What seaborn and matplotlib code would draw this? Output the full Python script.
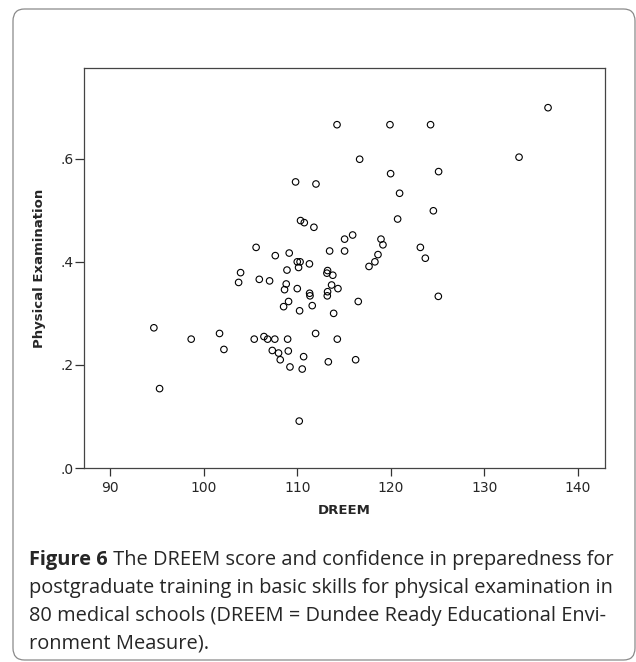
import numpy as np
import pandas as pd
import matplotlib
matplotlib.use('Agg')
import matplotlib.pyplot as plt
from matplotlib.patches import FancyBboxPatch
import seaborn as sns

# DREEM score vs confidence (physical examination), 80 schools
dreem = [114.25, 109.82, 112.0, 110.35, 110.75, 111.78, 105.6, 115.06, 107.65, 109.14,
         113.46, 115.06, 110.0, 110.3, 111.3, 110.14, 108.9, 113.24, 113.17, 113.8,
         103.94, 103.73, 105.94, 107.04, 108.82, 108.64, 110.0, 111.32, 111.36, 113.24,
         113.21, 113.67, 114.35, 109.07, 108.54, 111.6, 110.25, 113.89, 94.67, 98.66,
         101.69, 102.16, 105.4, 106.44, 106.83, 107.6, 108.97, 111.96, 114.28, 107.33,
         108.0, 108.18, 109.04, 110.68, 109.22, 110.53, 113.32, 95.28, 110.21, 119.91,
         124.25, 136.81, 133.71, 116.67, 119.98, 125.11, 120.94, 124.55, 120.73, 115.92,
         118.95, 119.16, 123.16, 123.69, 118.63, 118.3, 117.67, 116.52, 125.08, 116.24]
phys_exam = [0.666, 0.555, 0.551, 0.480, 0.476, 0.467, 0.428, 0.444, 0.412, 0.417,
             0.421, 0.421, 0.400, 0.400, 0.396, 0.389, 0.384, 0.383, 0.378, 0.374,
             0.379, 0.360, 0.366, 0.363, 0.357, 0.346, 0.348, 0.339, 0.334, 0.342,
             0.334, 0.355, 0.348, 0.323, 0.313, 0.315, 0.305, 0.300, 0.272, 0.250,
             0.261, 0.230, 0.250, 0.255, 0.250, 0.250, 0.250, 0.261, 0.250, 0.228,
             0.223, 0.210, 0.227, 0.216, 0.196, 0.192, 0.206, 0.154, 0.091, 0.666,
             0.666, 0.699, 0.603, 0.599, 0.571, 0.575, 0.533, 0.499, 0.483, 0.452,
             0.444, 0.433, 0.428, 0.407, 0.414, 0.400, 0.391, 0.323, 0.333, 0.210]

x_ticks = [90, 100, 110, 120, 130, 140]
y_ticks = [0.0, 0.2, 0.4, 0.6]
y_tick_labels = ['.0', '.2', '.4', '.6']

caption_bold = 'Figure 6'
caption_lines = [
    ' The DREEM score and confidence in preparedness for',
    'postgraduate training in basic skills for physical examination in',
    '80 medical schools (DREEM = Dundee Ready Educational Envi-',
    'ronment Measure).',
]

df = pd.DataFrame({'DREEM': dreem, 'Physical Examination': phys_exam})

sns.set_style('white')
plt.rcParams['font.family'] = ['DejaVu Sans']

W, H = 636, 662
fig = plt.figure(figsize=(W / 100, H / 100), dpi=100)
ax = fig.add_axes([84 / W, 1 - 468 / H, (605 - 84) / W, (468 - 68) / H])

sns.scatterplot(data=df, x='DREEM', y='Physical Examination', ax=ax,
                marker='o', s=22, facecolor='none', edgecolor='black',
                linewidth=0.8)

ax.set_xlim(87.2, 142.9)
ax.set_ylim(0, 0.776)
ax.set_xticks(x_ticks)
ax.set_yticks(y_ticks)
ax.set_yticklabels(y_tick_labels)
ax.tick_params(axis='x', direction='out', length=6, width=0.9, color='#333333',
               labelsize=10, pad=3, bottom=True)
ax.tick_params(axis='y', direction='out', length=6.5, width=0.9, color='#333333',
               labelsize=10, pad=1, left=True)
for s in ax.spines.values():
    s.set_visible(True)
    s.set_color('#444444')
    s.set_linewidth(0.9)

ax.set_xlabel('DREEM', fontsize=9.5, fontweight='bold', labelpad=7)
ax.set_ylabel('Physical Examination', fontsize=9.5, fontweight='bold', labelpad=10)

# rounded frame around figure + caption
frame = FancyBboxPatch((13 / W, 1 - 660 / H), (635 - 13) / W, (660 - 9) / H,
                       boxstyle='round,pad=0,rounding_size=0.018',
                       transform=fig.transFigure, facecolor='none',
                       edgecolor='#8a8a8a', linewidth=0.9)
fig.patches.append(frame)

# caption, sized so the longest line spans ~583 px
cap_font = ['Open Sans', 'DejaVu Sans']
renderer = fig.canvas.get_renderer()
probe = fig.text(0, 0, caption_lines[1], fontsize=12, family=cap_font)
wpx = probe.get_window_extent(renderer).width
probe.remove()
cap_size = 12 * 583 / wpx

x0 = 29 / W
baselines = [565, 593, 621, 649]
t = fig.text(x0, 1 - baselines[0] / H, caption_bold, fontsize=cap_size,
             fontweight='bold', family=cap_font, va='baseline')
bw = t.get_window_extent(renderer).width
fig.text(x0 + bw / W, 1 - baselines[0] / H, caption_lines[0], fontsize=cap_size,
         family=cap_font, va='baseline')
for line, b in zip(caption_lines[1:], baselines[1:]):
    fig.text(x0, 1 - b / H, line, fontsize=cap_size, family=cap_font, va='baseline')

fig.savefig('out.png', dpi=100)
